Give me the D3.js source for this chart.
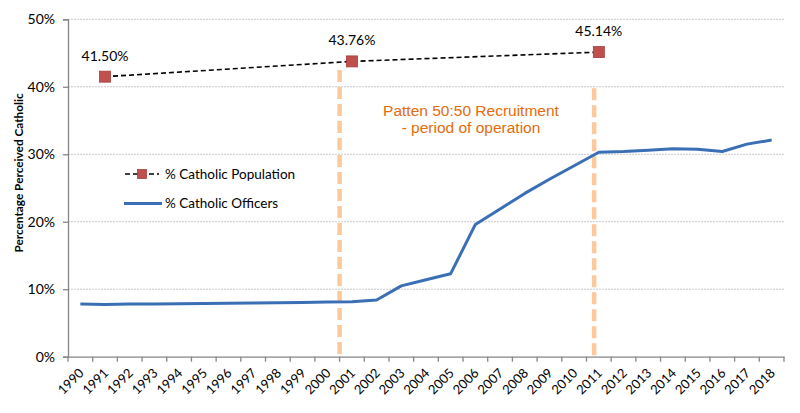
<!DOCTYPE html>
<html>
<head>
<meta charset="utf-8">
<script src="https://cdn.jsdelivr.net/npm/d3@7"></script>
<style>
  html, body { margin: 0; padding: 0; background: #fff; }
  svg { display: block; font-family: Lato, "Open Sans", sans-serif; }
</style>
</head>
<body>
<svg id="chart" width="800" height="413"></svg>
<script>
// ---- data ----
const years = ["1990","1991","1992","1993","1994","1995","1996","1997","1998","1999",
  "2000","2001","2002","2003","2004","2005","2006","2007","2008","2009",
  "2010","2011","2012","2013","2014","2015","2016","2017","2018"];
const officers = [7.8, 7.75, 7.8, 7.82, 7.85, 7.88, 7.92, 7.95, 8.0, 8.05,
  8.1, 8.15, 8.4, 10.5, 11.4, 12.3, 19.6, 21.9, 24.2, 26.3,
  28.3, 30.3, 30.4, 30.6, 30.8, 30.75, 30.4, 31.5, 32.1];
const popYears = ["1991", "2001", "2011"];
const population = [41.50, 43.76, 45.14];
const yTicks = [0, 10, 20, 30, 40, 50];
const periodLines = [{ year: "2001", offset: -0.5, top: 42.5 }, { year: "2011", offset: -0.19, top: 39.8 }];
const annotation = ["Patten 50:50 Recruitment", "- period of operation"];
const legendLabels = ["% Catholic Population", "% Catholic Officers"];
const yTitle = "Percentage Perceived Catholic";

// ---- layout ----
const svg = d3.select("#chart");
const m = { left: 68, right: 784, top: 19.3, bottom: 356.7 };

const x = d3.scaleBand().domain(years).range([m.left, m.right]).padding(0);
const y = d3.scaleLinear().domain([0, 50]).range([m.bottom, m.top]);
const cx = d => x(d) + x.bandwidth() / 2;

// gridlines
svg.append("g").selectAll("line").data(yTicks.filter(t => t > 0)).join("line")
  .attr("x1", m.left).attr("x2", m.right)
  .attr("y1", d => y(d)).attr("y2", d => y(d))
  .attr("stroke", "#c8c8c8").attr("stroke-width", 1).attr("stroke-dasharray", "2,1");

// y axis
const yAxis = svg.append("g").attr("transform", `translate(${m.left},0)`)
  .call(d3.axisLeft(y).tickValues(yTicks).tickFormat(d => d + "%").tickSize(5).tickPadding(8));
yAxis.select(".domain").attr("stroke", "#868686").attr("stroke-width", 1.3);
yAxis.selectAll(".tick line").attr("stroke", "#868686").attr("stroke-width", 1.3);
yAxis.selectAll("text").attr("font-size", 14).attr("fill", "#000").attr("font-family", "Lato");

// x axis
const xAxis = svg.append("g").attr("transform", `translate(0,${m.bottom})`)
  .call(d3.axisBottom(x).tickSize(0).tickFormat(""));
xAxis.select(".domain").attr("stroke", "#868686").attr("stroke-width", 1.3);
// tick marks at category boundaries
const boundaries = years.map(d => x(d)).concat([m.right]);
svg.append("g").selectAll("line").data(boundaries).join("line")
  .attr("x1", d => d).attr("x2", d => d)
  .attr("y1", m.bottom).attr("y2", m.bottom + 5)
  .attr("stroke", "#868686").attr("stroke-width", 1.3);
// rotated labels
svg.append("g").selectAll("text").data(years).join("text")
  .attr("transform", d => `translate(${cx(d) + 1},${m.bottom + 14}) rotate(-45)`)
  .attr("text-anchor", "end")
  .attr("dy", "0.35em")
  .attr("font-size", 13)
  .attr("fill", "#000")
  .text(d => d);

// y title
svg.append("text")
  .attr("transform", `translate(23,${173}) rotate(-90)`)
  .attr("text-anchor", "middle")
  .attr("font-size", 11.8)
  .attr("font-weight", "bold")
  .attr("fill", "#000")
  .text(yTitle);

// period lines
svg.append("g").selectAll("line").data(periodLines).join("line")
  .attr("x1", d => cx(d.year) + d.offset * x.bandwidth())
  .attr("x2", d => cx(d.year) + d.offset * x.bandwidth())
  .attr("y1", d => y(d.top)).attr("y2", m.bottom)
  .attr("stroke", "#fbc99b").attr("stroke-width", 4.5)
  .attr("stroke-dasharray", "12,5");

// annotation
const ann = svg.append("text")
  .attr("x", 471).attr("y", 115.5)
  .attr("text-anchor", "middle")
  .attr("font-family", "'Liberation Sans', Arial, sans-serif")
  .attr("font-size", 15.5)
  .attr("fill", "#e46c0a");
ann.selectAll("tspan").data(annotation).join("tspan")
  .attr("x", 471).attr("dy", (d, i) => i === 0 ? 0 : 17.5)
  .text(d => d);

// officers line
const line = d3.line().x((d, i) => cx(years[i])).y(d => y(d));
svg.append("path").datum(officers)
  .attr("d", line)
  .attr("fill", "none")
  .attr("stroke", "#3a6fb6")
  .attr("stroke-width", 3)
  .attr("stroke-linejoin", "round");

// population dashed line + markers
const popLine = d3.line().x((d, i) => cx(popYears[i])).y(d => y(d));
svg.append("path").datum(population)
  .attr("d", popLine)
  .attr("fill", "none")
  .attr("stroke", "#000")
  .attr("stroke-width", 1.6)
  .attr("stroke-dasharray", "5,3");
const sq = 11;
svg.append("g").selectAll("rect").data(population).join("rect")
  .attr("x", (d, i) => cx(popYears[i]) - sq / 2)
  .attr("y", d => y(d) - sq / 2)
  .attr("width", sq).attr("height", sq)
  .attr("fill", "#c0504d").attr("stroke", "#a5403d").attr("stroke-width", 0.8);
svg.append("g").selectAll("text").data(population).join("text")
  .attr("x", (d, i) => cx(popYears[i]))
  .attr("y", d => y(d) - 16)
  .attr("text-anchor", "middle")
  .attr("font-size", 14)
  .attr("fill", "#000")
  .text(d => d.toFixed(2) + "%");

// legend
const lg = svg.append("g");
lg.append("line").attr("x1", 125).attr("x2", 159).attr("y1", 174).attr("y2", 174)
  .attr("stroke", "#000").attr("stroke-width", 1.6).attr("stroke-dasharray", "5,3");
lg.append("rect").attr("x", 142 - 4.5).attr("y", 174 - 4.5).attr("width", 9).attr("height", 9)
  .attr("fill", "#c0504d").attr("stroke", "#a5403d").attr("stroke-width", 0.8);
lg.append("line").attr("x1", 124).attr("x2", 162).attr("y1", 203.5).attr("y2", 203.5)
  .attr("stroke", "#3a6fb6").attr("stroke-width", 3);
lg.selectAll("text").data(legendLabels).join("text")
  .attr("x", 165).attr("y", (d, i) => i === 0 ? 174 : 203.5)
  .attr("dy", "0.35em")
  .attr("font-size", 13.5)
  .attr("fill", "#000")
  .text(d => d);
</script>
</body>
</html>
